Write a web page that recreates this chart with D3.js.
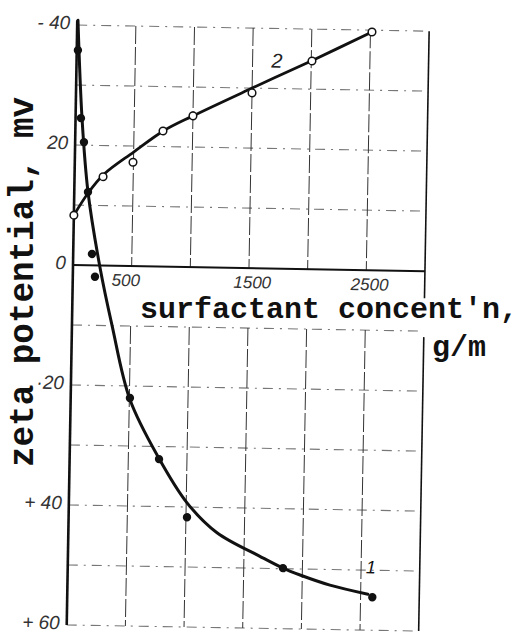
<!DOCTYPE html>
<html>
<head>
<meta charset="utf-8">
<script src="https://cdn.jsdelivr.net/npm/d3@7"></script>
<style>
  html, body { margin: 0; padding: 0; background: #fff; }
  svg { display: block; }
</style>
</head>
<body>
<svg id="chart" width="521" height="633"></svg>
<script>
// ---- data ----
const xGrid = [500, 1000, 1500, 2000, 2500];
const xTickValues = [500, 1500, 2500];
const xTickLabels = ["500", "1500", "2500"];
// zeta potential axis (printed sign convention: top -40, bottom +60)
const yGrid = [-40, -30, -20, -10, 0, 10, 20, 30, 40, 50, 60];
const yTickValues = [-40, -20, 0, 20, 40, 60];
const yTickLabels = ["- 40", "20", "0", "\u00b720", "+ 40", "+ 60"];

// curve 1 – measured points (filled dots)
const c1Conc = [10, 46, 75, 117, 160, 189, 505, 762, 1009, 1834, 2600];
const c1Zeta = [-35.8, -24.5, -20.5, -12.2, -1.9, 1.9, 22.0, 32.1, 41.7, 49.9, 54.5];
// curve 1 – drawn smooth line
const c1LineConc = [6, 55, 117, 230, 341, 506, 762, 1007, 1267, 1636, 1834, 1981, 2237, 2562];
const c1LineZeta = [-40.8, -24.5, -12.2, 0.3, 9.9, 22.3, 32.0, 39.3, 44.2, 48.0, 49.9, 51.0, 52.6, 54.0];

// curve 2 – measured points (open circles)
const c2Conc = [0, 243, 496, 747, 1000, 1500, 2006, 2513];
const c2Zeta = [-8.3, -14.8, -17.3, -22.6, -25.2, -29.2, -34.7, -39.7];
// curve 2 – drawn smooth line
const c2LineConc = [0, 117, 250, 500, 750, 1000, 1500, 2000, 2513];
const c2LineZeta = [-8.3, -12.0, -15.2, -19.0, -22.6, -25.2, -30.0, -34.7, -39.7];

const curveLabels = ["1", "2"];
const yTitle = "zeta potential, mv";
const xTitle = "surfactant concent'n,";
const xUnit = "g/m";

// ---- drawing ----
const svg = d3.select("#chart");
const origin = [73, 265];
const x = d3.scaleLinear().domain([0, 3000]).range([0, 352]);
const y = d3.scaleLinear().domain([-40, 60]).range([-240, 360]);

const g = svg.append("g")
  .attr("transform", `translate(${origin[0]},${origin[1]}) rotate(1)`);

// horizontal dashed grid lines
g.append("g").selectAll("line").data(yGrid.filter(d => d !== 0)).join("line")
  .attr("x1", x(0)).attr("x2", x(3000))
  .attr("y1", d => y(d)).attr("y2", d => y(d))
  .attr("stroke", "#777").attr("stroke-width", 1.1)
  .attr("stroke-dasharray", "10,6,2,6");

// vertical grid lines (interrupted where the axis title is printed)
const vSeg = [[-40, 0], [10, 60]];
xGrid.forEach(v => {
  vSeg.forEach(s => {
    g.append("line")
      .attr("x1", x(v)).attr("x2", x(v))
      .attr("y1", y(s[0])).attr("y2", y(s[1]))
      .attr("stroke", "#333").attr("stroke-width", 1)
      .attr("stroke-dasharray", "18,3");
  });
});

// right border
[[-40, 4.5], [11, 60]].forEach(s => {
  g.append("line")
    .attr("x1", x(3000)).attr("x2", x(3000))
    .attr("y1", y(s[0])).attr("y2", y(s[1]))
    .attr("stroke", "#111").attr("stroke-width", 1.6);
});

// zero line (x axis)
g.append("line")
  .attr("x1", x(0)).attr("x2", x(3000))
  .attr("y1", y(0)).attr("y2", y(0))
  .attr("stroke", "#111").attr("stroke-width", 2);

// left axis
g.append("line")
  .attr("x1", x(0)).attr("x2", x(0))
  .attr("y1", y(-40.8)).attr("y2", y(60))
  .attr("stroke", "#111").attr("stroke-width", 2.6);

// axis labels via d3 axes
const yAxis = d3.axisLeft(y).tickValues(yTickValues)
  .tickFormat((d, i) => yTickLabels[i]).tickSize(0).tickPadding(7);
const ya = g.append("g").call(yAxis);
ya.select(".domain").remove();
ya.selectAll("text")
  .attr("dy", "0.2em")
  .attr("font-family", "'Liberation Sans', Arial, sans-serif")
  .attr("font-style", "italic")
  .attr("font-size", 19)
  .attr("fill", "#333");

const xAxis = d3.axisBottom(x).tickValues(xTickValues)
  .tickFormat((d, i) => xTickLabels[i]).tickSize(0).tickPadding(8);
const xa = g.append("g").call(xAxis);
xa.select(".domain").remove();
xa.selectAll("text")
  .attr("dx", d => d === 500 ? -6 : 3)
  .attr("font-family", "'Liberation Sans', Arial, sans-serif")
  .attr("font-style", "italic")
  .attr("font-size", 17)
  .attr("fill", "#333");

// curves
const line = d3.line().x(d => x(d[0])).y(d => y(d[1])).curve(d3.curveCatmullRom.alpha(0.5));
const c1Line = c1LineConc.map((c, i) => [c, c1LineZeta[i]]);
const c2Line = c2LineConc.map((c, i) => [c, c2LineZeta[i]]);

g.append("path").attr("d", line(c2Line))
  .attr("fill", "none").attr("stroke", "#111").attr("stroke-width", 2.8)
  .attr("stroke-linecap", "round");
g.append("path").attr("d", line(c1Line))
  .attr("fill", "none").attr("stroke", "#111").attr("stroke-width", 3)
  .attr("stroke-linecap", "round");

// markers
g.append("g").selectAll("circle").data(c2Conc.map((c, i) => [c, c2Zeta[i]])).join("circle")
  .attr("cx", d => x(d[0])).attr("cy", d => y(d[1])).attr("r", 3.8)
  .attr("fill", "#fff").attr("stroke", "#111").attr("stroke-width", 1.5);
g.append("g").selectAll("circle").data(c1Conc.map((c, i) => [c, c1Zeta[i]])).join("circle")
  .attr("cx", d => x(d[0])).attr("cy", d => y(d[1])).attr("r", 4.2)
  .attr("fill", "#111");

// curve numbers
g.append("text").text(curveLabels[0])
  .attr("x", x(2540)).attr("y", y(50.5))
  .attr("font-family", "'Liberation Sans', Arial, sans-serif")
  .attr("font-style", "italic").attr("font-size", 18).attr("fill", "#111");
g.append("text").text(curveLabels[1])
  .attr("x", x(1660)).attr("y", y(-33.5))
  .attr("font-family", "'Liberation Sans', Arial, sans-serif")
  .attr("font-style", "italic").attr("font-size", 20).attr("fill", "#222");

// titles
svg.append("text").text(yTitle)
  .attr("transform", "translate(33,282) rotate(-90)")
  .attr("text-anchor", "middle")
  .attr("font-family", "'Liberation Mono', 'DejaVu Sans Mono', monospace")
  .attr("font-weight", "bold").attr("font-size", 35)
  .attr("textLength", 370).attr("lengthAdjust", "spacingAndGlyphs")
  .attr("fill", "#111");

svg.append("text").text(xTitle)
  .attr("x", 140).attr("y", 318)
  .attr("font-family", "'Liberation Mono', 'DejaVu Sans Mono', monospace")
  .attr("font-weight", "bold").attr("font-size", 30)
  .attr("textLength", 378).attr("lengthAdjust", "spacingAndGlyphs")
  .attr("fill", "#111")
  .attr("stroke", "#fff").attr("stroke-width", 5).attr("paint-order", "stroke");

svg.append("text").text(xUnit)
  .attr("x", 432).attr("y", 356)
  .attr("font-family", "'Liberation Mono', 'DejaVu Sans Mono', monospace")
  .attr("font-weight", "bold").attr("font-size", 30)
  .attr("fill", "#111");
</script>
</body>
</html>
